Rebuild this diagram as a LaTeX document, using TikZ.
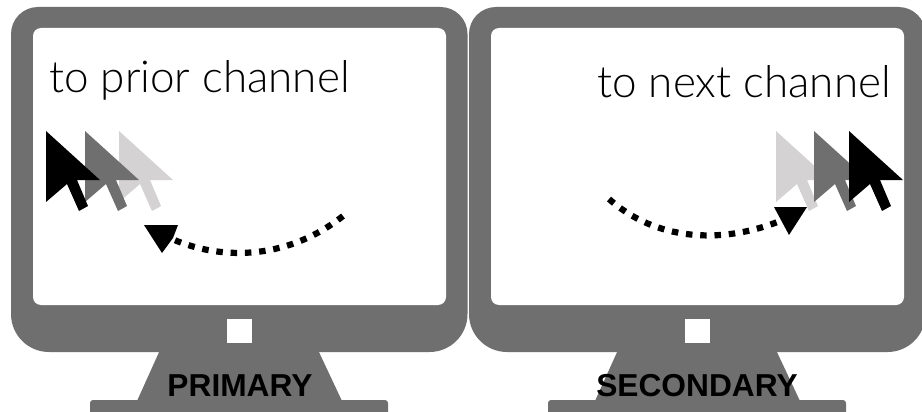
\documentclass[tikz,border=0pt]{standalone}
\usepackage{fontspec}
\setmainfont{Liberation Sans}
\newfontfamily\lightfont{Lato Light}
\definecolor{monitorgray}{HTML}{6F6F6F}
\definecolor{ghostgray}{HTML}{D4D2D2}
\tikzset{
  x=1pt,y=-1pt,
  body/.style={fill=monitorgray,draw=none},
  screen/.style={fill=white,draw=none},
  headline/.style={font=\lightfont\fontsize{44}{44}\selectfont,inner sep=0pt,text=black},
  tag/.style={font=\bfseries\fontsize{31.7}{32}\selectfont,inner sep=0pt,text=black},
  trail/.style={draw=black,line width=6.2pt,dash pattern=on 6.5pt off 7.8pt},
}
\newcommand{\monitor}[1]{%
  \begin{scope}[xshift=#1pt]
    \fill[body,rounded corners=3pt] (90,420) -- (90,400) -- (388,400) -- (388,420) -- cycle;
    \fill[body] (137,401) -- (160,350) -- (318,350) -- (342,401) -- cycle;
    \fill[body] (11,180) [rounded corners=27pt] -- (11,7) -- (467.5,7) -- (467.5,180) [rounded corners=38pt] -- (467.5,352) -- (11,352) -- cycle;
    \fill[screen,rounded corners=8pt] (33,28) rectangle (446,305);
    \fill[screen] (227,319) rectangle (252,343);
  \end{scope}}
\newcommand{\pointer}[2]{%
  \fill[#2,shift={(#1,131)}] (0,0) -- (54,49) -- (31,49) -- (42,75) -- (33,80) -- (21,53) -- (0,71) -- cycle;}
\begin{document}
\begin{tikzpicture}
\useasboundingbox (0,0) rectangle (922,412);
\fill[white] (0,0) rectangle (922,412);
\begin{scope}
\clip (0,0) rectangle (922,412);
\monitor{0}
\monitor{458}
\end{scope}
\node[headline,anchor=base west] (prior) at (49,92.5) {to prior channel};
\node[headline,anchor=base east] (next) at (891,97.5) {to next channel};
\node[tag,anchor=base] (primary) at (240,396) {PRIMARY};
\node[tag,anchor=base] (secondary) at (697,396) {SECONDARY};
\pointer{119}{ghostgray}
\pointer{85}{monitorgray}
\pointer{46}{black}
\pointer{776}{ghostgray}
\pointer{814}{monitorgray}
\pointer{849}{black}
\coordinate (ls) at (343,216);
\coordinate (le) at (172,239);
\coordinate (rs) at (609,199);
\coordinate (re) at (780,221);
\draw[trail] (ls) .. controls (290,258) and (225,262) .. (le);
\fill[black] (144,225) -- (178,225) -- (173,238) -- (162,253) -- cycle;
\draw[trail] (rs) .. controls (655,240) and (720,245) .. (re);
\fill[black] (774,207) -- (807,207) -- (789,235) -- cycle;
\end{tikzpicture}
\end{document}
